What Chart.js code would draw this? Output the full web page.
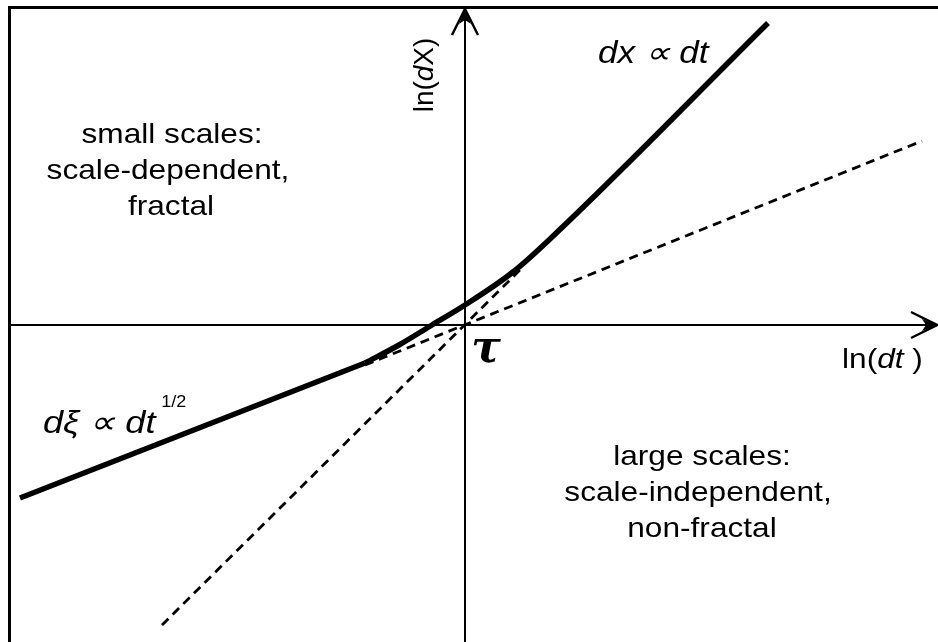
<!DOCTYPE html>
<html>
<head>
<meta charset="utf-8">
<script src="https://cdn.jsdelivr.net/npm/chart.js@4/dist/chart.umd.min.js"></script>
<style>
  html, body { margin: 0; padding: 0; background: #fff; }
  #wrap { width: 938px; height: 642px; }
</style>
</head>
<body>
<div id="wrap"><canvas id="crossover" width="938" height="642"></canvas></div>
<script>
// ln(dt) -> ln(dX), origin at tau; 1 unit = 100 px on both axes
const smallScaleX = [-4.45, -1.00];
const smallScaleY = [-1.73, -0.38];
const crossoverX = [-1.00, -0.66, -0.33, 0.00, 0.48, 0.85, 3.03];
const crossoverY = [-0.38, -0.20, 0.00, 0.20, 0.53, 0.86, 3.02];
const steepX = [-3.03, 0.55];          // dx ~ dt
const steepY = [-3.00, 0.55];
const shallowX = [-1.00, 4.57];        // dxi ~ dt^1/2
const shallowY = [-0.40, 1.84];

const xRange = [-4.55, 4.73];
const yRange = [-3.17, 3.17];

const pts = (xs, ys) => xs.map((x, i) => ({ x: x, y: ys[i] }));

// helper: text stretched horizontally like the original figure
function drawRich(ctx, parts, x, y, align, sx) {
    ctx.save();
    ctx.translate(x, y);
    ctx.scale(sx, 1);
    let total = 0;
    parts.forEach(p => { ctx.font = p[1]; total += ctx.measureText(p[0]).width; });
    let cx = align === 'center' ? -total / 2 : 0;
    ctx.textAlign = 'left';
    ctx.textBaseline = 'alphabetic';
    parts.forEach(p => {
        ctx.font = p[1];
        ctx.fillText(p[0], cx + (p[3] || 0), p[2] || 0);
        cx += ctx.measureText(p[0]).width + (p[3] || 0);
    });
    ctx.restore();
}

const sans = '"Liberation Sans", Arial, sans-serif';
const reg = '28px ' + sans;
const ita = 'italic 28px ' + sans;
const big = 'italic 31px ' + sans;

const decorations = {
    id: 'decorations',
    afterDraw(chart) {
        const ctx = chart.ctx;
        const xs = chart.scales.x, ys = chart.scales.y;
        const ox = xs.getPixelForValue(0), oy = ys.getPixelForValue(0);
        ctx.save();
        ctx.fillStyle = '#000';
        ctx.strokeStyle = '#000';

        // frame
        ctx.lineWidth = 3;
        ctx.strokeRect(9.5, 7.5, 1000, 1000);

        // arrow heads
        function arrow(tx, ty, ang) {
            ctx.save();
            ctx.translate(tx, ty);
            ctx.rotate(ang);
            ctx.lineWidth = 2.5;
            ctx.beginPath();
            ctx.moveTo(-26, -13); ctx.lineTo(0, 0); ctx.lineTo(-26, 13);
            ctx.stroke();
            ctx.beginPath();
            ctx.moveTo(0, 0); ctx.lineTo(-15, -6); ctx.lineTo(-11, 0); ctx.lineTo(-15, 6);
            ctx.closePath();
            ctx.fill();
            ctx.restore();
        }
        arrow(xs.getPixelForValue(xRange[1]) - 1, oy, 0);
        arrow(ox, ys.getPixelForValue(yRange[1]) + 1, -Math.PI / 2);

        const sx = 1.13;
        drawRich(ctx, [['small scales:', reg]], ox - 293, oy - 182, 'center', sx);
        drawRich(ctx, [['scale-dependent,', reg]], ox - 297, oy - 146, 'center', sx);
        drawRich(ctx, [['fractal', reg]], ox - 294, oy - 110, 'center', sx);
        drawRich(ctx, [['large scales:', reg]], ox + 237, oy + 140, 'center', sx);
        drawRich(ctx, [['scale-independent,', reg]], ox + 233, oy + 176, 'center', sx);
        drawRich(ctx, [['non-fractal', reg]], ox + 237, oy + 212, 'center', sx);

        drawRich(ctx, [['dx \u221D dt', big]], ox + 133, oy - 262, 'left', sx);
        drawRich(ctx, [['d\u03BE \u221D dt', 'italic 32px ' + sans], ['1/2', '16px ' + sans, -26, 5]], ox - 422, oy + 108, 'left', sx);
        drawRich(ctx, [['ln(', reg], ['dt', ita], [' )', reg]], ox + 377, oy + 43, 'left', sx);

        // tau
        ctx.font = 'bold italic 44px "DejaVu Serif", serif';
        ctx.textAlign = 'center';
        ctx.fillText('\u03C4', ox + 21, oy + 37);

        // rotated y label
        ctx.save();
        ctx.translate(ox - 32, oy - 250);
        ctx.rotate(-Math.PI / 2);
        drawRich(ctx, [['ln(', reg], ['d', ita], ['X)', reg]], 0, 0, 'center', 1);
        ctx.restore();

        ctx.restore();
    }
};

const solid = { borderColor: '#000', borderWidth: 5.5, pointRadius: 0, showLine: true, fill: false };
const dashed = { borderColor: '#000', borderWidth: 2.8, borderDash: [9, 6], pointRadius: 0, showLine: true, fill: false };

new Chart(document.getElementById('crossover'), {
    type: 'scatter',
    data: {
        datasets: [
            Object.assign({ label: 'small scales', data: pts(smallScaleX, smallScaleY), tension: 0 }, solid),
            Object.assign({ label: 'crossover', data: pts(crossoverX, crossoverY), cubicInterpolationMode: 'monotone' }, solid),
            Object.assign({ label: 'dx ~ dt', data: pts(steepX, steepY) }, dashed),
            Object.assign({ label: 'dxi ~ dt^1/2', data: pts(shallowX, shallowY) }, dashed)
        ]
    },
    options: {
        responsive: false,
        animation: false,
        layout: { padding: { left: 10, top: 8, right: 0, bottom: 0 } },
        plugins: { legend: { display: false }, tooltip: { enabled: false } },
        scales: {
            x: {
                type: 'linear', min: xRange[0], max: xRange[1], position: { y: 0 },
                ticks: { display: false }, grid: { display: false },
                border: { display: true, color: '#000', width: 2 }
            },
            y: {
                type: 'linear', min: yRange[0], max: yRange[1], position: { x: 0 },
                ticks: { display: false }, grid: { display: false },
                border: { display: true, color: '#000', width: 2 }
            }
        }
    },
    plugins: [decorations]
});
</script>
</body>
</html>
